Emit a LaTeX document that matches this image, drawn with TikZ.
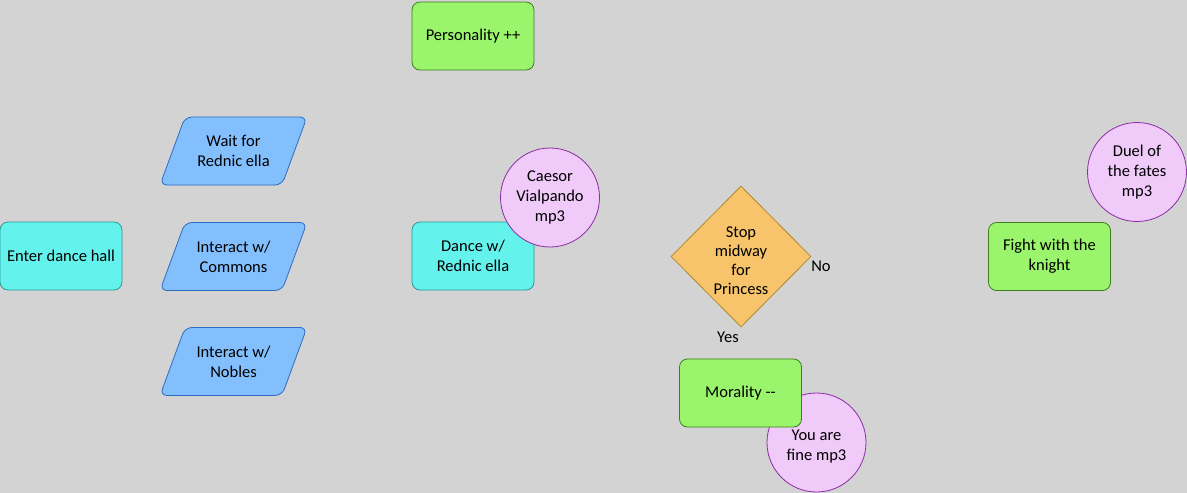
\documentclass[tikz,border=0pt]{standalone}
\usepackage{fontspec}
\setmainfont{Carlito}
\usetikzlibrary{shapes.geometric}
\definecolor{bg}{HTML}{D3D3D3}
\definecolor{cyanfill}{HTML}{64F2EC}
\definecolor{cyanline}{HTML}{2A9A95}
\definecolor{bluefill}{HTML}{84BFFD}
\definecolor{blueline}{HTML}{2E6CC2}
\definecolor{greenfill}{HTML}{9AF56C}
\definecolor{greenline}{HTML}{3F7D22}
\definecolor{orangefill}{HTML}{F7C46B}
\definecolor{orangeline}{HTML}{B08A30}
\definecolor{pinkfill}{HTML}{F0CAF9}
\definecolor{pinkline}{HTML}{8B2DA3}
\tikzset{
  every node/.style={font=\fontsize{16.5}{20}\selectfont, align=center, text=black},
  rbox/.style={rectangle, rounded corners=8pt, minimum width=122pt, minimum height=68pt, inner sep=0pt, line width=0.8pt},
  cyanbox/.style={rbox, fill=cyanfill, draw=cyanline},
  greenbox/.style={rbox, fill=greenfill, draw=greenline},
  ptext/.style={rectangle, minimum width=147pt, minimum height=68pt, inner sep=0pt},
  pshape/.style={fill=bluefill, draw=blueline, line width=0.8pt, rounded corners=7pt},
  mp3/.style={circle, minimum size=99pt, inner sep=0pt, fill=pinkfill, draw=pinkline, line width=0.8pt},
  decision/.style={diamond, minimum width=140pt, minimum height=141pt, inner sep=0pt, fill=orangefill, draw=orangeline, line width=0.8pt},
  lbl/.style={inner sep=0pt}
}
\begin{document}
\begin{tikzpicture}[x=1pt,y=-1pt]
\fill[bg] (0,0) rectangle (1187,493);
\useasboundingbox (0,0) rectangle (1187,493);

\node[cyanbox] (enter) at (61,256) {Enter dance hall};

% parallelograms
\foreach \n/\yy in {wait/151, commons/256.5, nobles/361.5}{
  \fill[pshape] (160,\yy+34) -- (282,\yy+34) -- (307,\yy-34) -- (185,\yy-34) -- cycle;
}
\node[ptext] (wait) at (233.5,151) {Wait for\\Rednic ella};
\node[ptext] (commons) at (233.5,256.5) {Interact w/\\Commons};
\node[ptext] (nobles) at (233.5,361.5) {Interact w/\\Nobles};

\node[greenbox] (pers) at (473,36) {Personality ++};
\node[cyanbox] (dance) at (473,256) {Dance w/\\Rednic ella};
\node[mp3] (caesor) at (550,197.5) {Caesor\\Vialpando\\mp3};

\node[decision] (stop) at (741,256.5) {};
\node[lbl, font=\fontsize{16.5}{19}\selectfont] (stoptext) at ([yshift=-4pt]stop.center) {Stop\\midway\\for\\Princess};
\node[lbl] (no) at (821,266) {No};
\node[lbl] (yes) at (728,337) {Yes};

\node[mp3] (fine) at (816.5,442.5) {};
\node[lbl] (finetext) at (816.5,447) {You are\\fine mp3};
\node[greenbox] (moral) at (740.5,393) {Morality -{}-};

\node[greenbox] (fight) at (1049.5,256.5) {Fight with the\\knight};
\node[mp3] (duel) at (1137,172) {Duel of\\the fates\\mp3};
\end{tikzpicture}
\end{document}
